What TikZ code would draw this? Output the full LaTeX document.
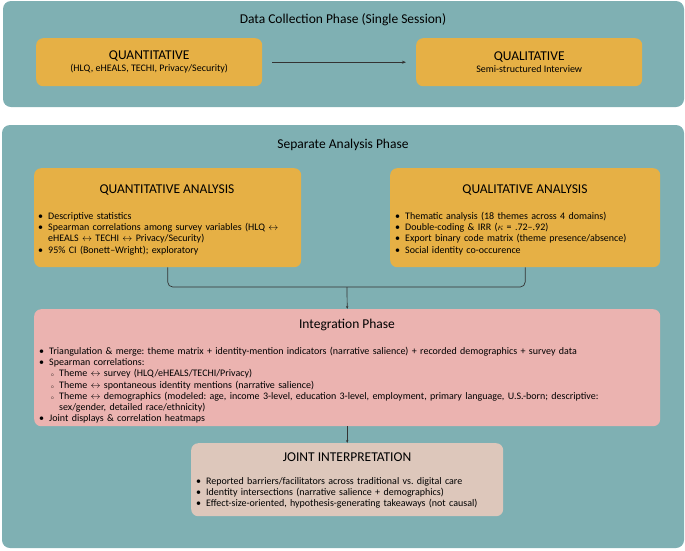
\documentclass[tikz,border=0pt]{standalone}
\usepackage{fontspec}
\setmainfont{Carlito}
\usepackage{enumitem}
\usetikzlibrary{arrows.meta}
\definecolor{teal}{HTML}{7FB0B3}
\definecolor{gold}{HTML}{E6B045}
\definecolor{rose}{HTML}{EBB3B0}
\definecolor{beige}{HTML}{DDC7BB}
\setlist[itemize]{nosep,leftmargin=8pt,label=\textbullet}
\setlist[itemize,2]{leftmargin=10pt,label={\tiny$\circ$}}
\tikzset{
  panel/.style={fill=teal, rounded corners=8pt, draw=none},
  box/.style={rounded corners=7pt, draw=none, anchor=north west, inner sep=0pt},
  ttl/.style={font=\fontsize{13.5}{15}\selectfont},
  btxt/.style={anchor=north west, align=left, inner sep=0pt, font=\frenchspacing\fontsize{10}{11.2}\selectfont},
  conn/.style={draw=black!80, line width=0.7pt},
}
\begin{document}
\begin{tikzpicture}[x=1pt,y=-1pt]
\useasboundingbox (0,0) rectangle (685,550);
% panels
\fill[panel] (3,1) rectangle (684,107);
\fill[panel] (2,125) rectangle (684,548);
\node[ttl] (t1) at (343,20) {Data Collection Phase (Single Session)};
\node[ttl] (t2) at (343,145) {Separate Analysis Phase};

% data collection
\node[box, fill=gold, minimum width=226, minimum height=48, align=center,
  font=\fontsize{10}{12}\selectfont] (qn) at (36,38)
  {{\fontsize{13.5}{15}\selectfont QUANTITATIVE}\\(HLQ, eHEALS, TECHI, Privacy/Security)};
\node[box, fill=gold, minimum width=226, minimum height=48, align=center,
  font=\fontsize{10}{12}\selectfont] (ql) at (416,38)
  {{\fontsize{13.5}{15}\selectfont QUALITATIVE}\\Semi-structured Interview};
\draw[conn, -{Stealth[length=4pt]}] ([xshift=10pt]qn.east) -- ([xshift=-10pt]ql.west);

% analysis boxes
\node[box, fill=gold, minimum width=267, minimum height=99] (qna) at (34,168) {};
\node[ttl] (qnat) at (167,190) {QUANTITATIVE ANALYSIS};
\node[btxt, text width=255] (qnab) at (40,208) {\begin{itemize}
\item Descriptive statistics
\item Spearman correlations among survey variables (HLQ $\leftrightarrow$ eHEALS $\leftrightarrow$ TECHI $\leftrightarrow$ Privacy/Security)
\item 95\% CI (Bonett–Wright); exploratory
\end{itemize}};

\node[box, fill=gold, minimum width=270, minimum height=99] (qla) at (390,168) {};
\node[ttl] (qlat) at (525,190) {QUALITATIVE ANALYSIS};
\node[btxt, text width=260] (qlab) at (397,208) {\begin{itemize}
\item Thematic analysis (18 themes across 4 domains)
\item Double-coding \& IRR ($\kappa$ = .72–.92)
\item Export binary code matrix (theme presence/absence)
\item Social identity co-occurence
\end{itemize}};

% integration
\node[box, fill=rose, minimum width=626, minimum height=117] (int) at (34,309) {};
\node[ttl] (intt) at (347,325) {Integration Phase};
\node[btxt, text width=612] (intb) at (41,343) {\begin{itemize}
\item Triangulation \& merge: theme matrix + identity-mention indicators (narrative salience) + recorded demographics + survey data
\item Spearman correlations:
  \begin{itemize}
  \item Theme $\leftrightarrow$ survey (HLQ/eHEALS/TECHI/Privacy)
  \item Theme $\leftrightarrow$ spontaneous identity mentions (narrative salience)
  \item Theme $\leftrightarrow$ demographics (modeled: age, income 3-level, education 3-level, employment, primary language, U.S.-born; descriptive:\\ sex/gender, detailed race/ethnicity)
  \end{itemize}
\item Joint displays \& correlation heatmaps
\end{itemize}};

% joint interpretation
\node[box, fill=beige, minimum width=312, minimum height=73] (joint) at (191,443) {};
\node[ttl] (jt) at (347,457) {JOINT INTERPRETATION};
\node[btxt, text width=300] (jb) at (198,473) {\begin{itemize}
\item Reported barriers/facilitators across traditional vs. digital care
\item Identity intersections (narrative salience + demographics)
\item Effect-size-oriented, hypothesis-generating takeaways (not causal)
\end{itemize}};

% connectors
\coordinate (m) at (347,287);
\draw[conn, rounded corners=5pt] (qna.south) |- (m) -| (qla.south);
\draw[conn, -{Stealth[length=3pt]}] (m) -- (int.north);
\draw[conn, -{Stealth[length=3pt]}] (int.south) -- (joint.north);
\end{tikzpicture}
\end{document}
